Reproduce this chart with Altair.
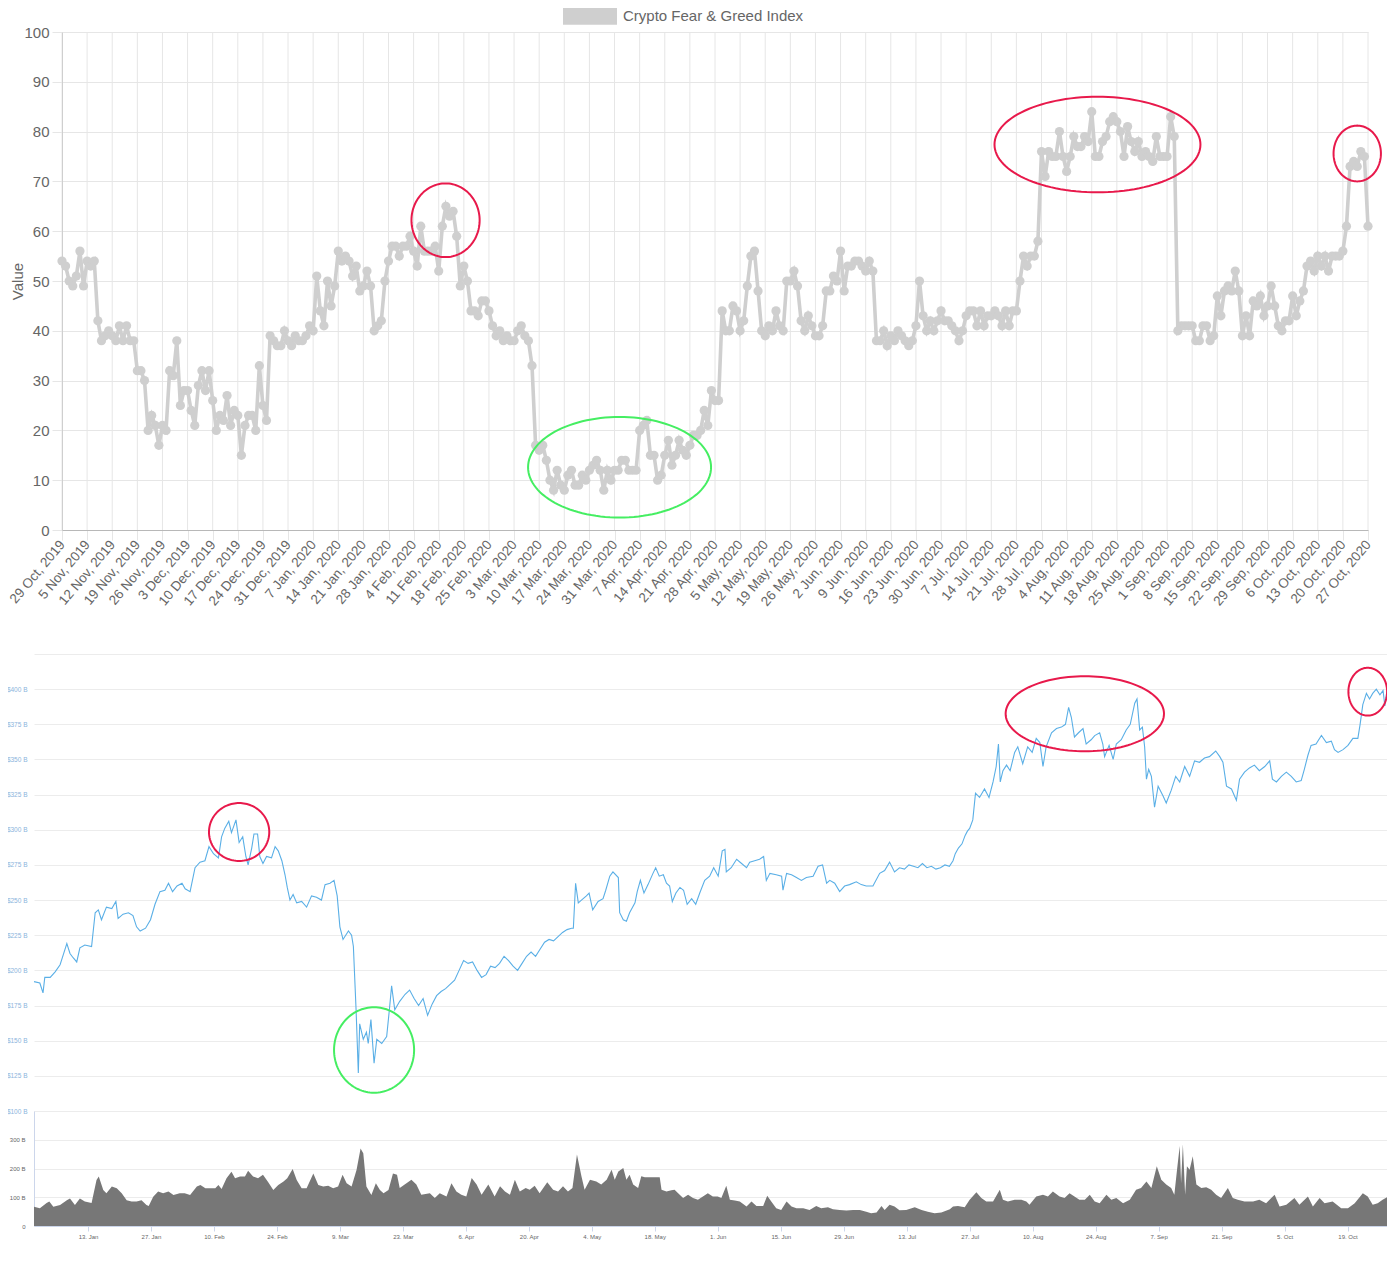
import numpy as np
import pandas as pd
import altair as alt

# ---------------- data: Crypto Fear & Greed Index, daily from 29 Oct 2019
FG_START = "2019-10-29"
FG_LABEL = "Crypto Fear & Greed Index"
fg_values = [
    54, 53, 50, 49, 51, 56, 49, 54, 53, 54, 42,
    38, 39, 40, 39, 38, 41, 38, 41, 38, 38,
    32, 32, 30, 20, 23, 21, 17, 21, 20, 32,
    31, 38, 25, 28, 28, 24, 21, 29, 32, 28,
    32, 26, 20, 23, 22, 27, 21, 24, 23, 15,
    21, 23, 23, 20, 33, 25, 22, 39, 38, 37,
    37, 40, 38, 37, 39, 38, 38, 39, 41, 40,
    51, 44, 41, 50, 45, 49, 56, 54, 55, 54,
    51, 53, 48, 49, 52, 49, 40, 41, 42, 50,
    54, 57, 57, 55, 57, 57, 59, 56, 53, 61,
    56, 56, 56, 57, 52, 61, 65, 63, 64, 59,
    49, 53, 50, 44, 44, 43, 46, 46, 44, 41,
    39, 40, 38, 39, 38, 38, 40, 41, 39, 38,
    33, 17, 16, 17, 14, 10, 8, 12, 9, 8,
    11, 12, 9, 9, 11, 10, 12, 13, 14, 12,
    8, 12, 10, 12, 12, 14, 14, 12, 12, 12,
    20, 21, 22, 15, 15, 10, 11, 15, 18, 13,
    15, 18, 16, 15, 17, 19, 19,
    20, 24, 21, 28, 26, 26,
    44, 40, 40, 45, 44, 40, 42, 49, 55, 56,
    48, 40, 39, 41, 40, 44, 41, 40, 50, 50,
    52, 49, 42, 40, 43, 41, 39, 39, 41, 48,
    48, 51, 50, 56, 48, 53, 53, 54, 54, 53,
    52, 54, 52, 38, 38, 40, 37, 39, 38, 40,
    39, 38, 37, 38, 41, 50, 43, 40, 42, 40,
    42, 44, 42, 42, 41, 40, 38, 40, 43, 44,
    44, 41, 44, 41, 43, 43, 44, 43, 41, 44,
    41, 44, 44, 50, 55, 53, 55, 55, 58, 76,
    71, 76, 75, 75, 80, 75, 72, 75, 79, 77,
    77, 79, 78, 84, 75, 75, 78, 79, 82, 83,
    82, 80, 75, 81, 78, 76, 78, 75, 76, 75,
    74, 79, 75, 75, 75, 83, 79, 40, 41, 41,
    41, 41, 38, 38, 41, 41, 38, 39, 47, 43,
    48, 49, 48, 52, 48, 39, 43, 39, 46, 45,
    47, 43, 45, 49, 45, 41, 40, 42, 42, 47,
    43, 46, 48, 53, 54, 52, 55, 53, 55, 52,
    55, 55, 55, 56, 61, 73, 74, 73, 76, 75, 61,
]
fg_tick_start, fg_tick_end = "2019-10-29", "2020-10-27"

# ---------------- data: total market cap (billion USD), (day since 1 Jan 2020, value)
MC_START = "2020-01-01"
MC_END = "2020-10-28"
mc_points = [
    (0, 192), (1.3, 191), (2, 184), (2.4, 195), (3.6, 195), (4.7, 199), (5.8, 204), (6.5, 211),
    (7.3, 219), (8, 212), (8.7, 209), (9.5, 206), (10.2, 216), (11.3, 218), (12.8, 217), (13.6, 241),
    (14.3, 243), (15, 236), (16.1, 245), (17.3, 244), (18.2, 249), (18.7, 237), (19.8, 240), (21, 241),
    (22, 239), (22.8, 231), (23.6, 228), (24.8, 230), (25.9, 236), (26.9, 247), (28, 256), (29.1, 257),
    (29.9, 262), (30.8, 256), (31.8, 260), (32.9, 262), (33.6, 258), (34.7, 256), (35.8, 273), (36.9, 277),
    (38, 278), (38.9, 288), (39.9, 283), (41, 280), (41.7, 295), (42.4, 301), (43.3, 306), (43.9, 298),
    (44.9, 307), (45.6, 291), (46.4, 295), (47.1, 281), (47.6, 275), (48.4, 287), (48.9, 297), (49.7, 297),
    (50.2, 281), (50.9, 276), (51.7, 281), (52.8, 280), (53.6, 288), (54.3, 285), (55.1, 278), (55.8, 268),
    (56.3, 259), (56.9, 250), (57.6, 254), (58.4, 248), (59.5, 249), (60.6, 245), (61.7, 253), (62.8, 252),
    (63.9, 250), (64.7, 261), (65.8, 262), (66.7, 264), (67.4, 253), (68, 231), (68.7, 222), (69.9, 228),
    (70.6, 225), (71, 217), (71.6, 172), (72.1, 127), (72.4, 162), (73.2, 151), (73.9, 156), (74.3, 148),
    (74.9, 165), (75.6, 134), (76.2, 151), (77.3, 148), (78.4, 153), (79, 172), (79.5, 189), (80.2, 172),
    (81.3, 178), (82.5, 183), (83.5, 186), (84.5, 180), (85.5, 175), (86.5, 180), (87.5, 168), (88.5, 176),
    (89.5, 182), (90.5, 185), (91.5, 187), (92.5, 190), (93.5, 193), (94.5, 200), (95.5, 207), (96.5, 205),
    (97.5, 206), (98.5, 200), (99.5, 195), (100.5, 197), (101.5, 203), (102.5, 202), (103.5, 205), (104.5, 210),
    (105.5, 207), (106.5, 203), (107.5, 200), (108.5, 205), (109.5, 210), (110.5, 213), (111.5, 210), (112.5, 215),
    (113.5, 220), (114.5, 222), (115.5, 221), (116.5, 224), (117.5, 227), (118.5, 229), (119.5, 230), (119.9, 230),
    (120.4, 262), (121, 248), (121.7, 250), (122.8, 253), (123.4, 255), (124.2, 243), (125.4, 249), (126.5, 251),
    (127.1, 257), (128, 267), (128.7, 270), (129.9, 266), (130.2, 241), (131, 236), (131.7, 235), (132.4, 241),
    (133.6, 248), (134.1, 256), (134.8, 264), (135.6, 255), (136.5, 261), (137.6, 269), (138.2, 273), (139, 267),
    (139.9, 268), (140.6, 262), (141.3, 260), (141.9, 249), (142.7, 255), (143.6, 259), (144.4, 257), (145.2, 247),
    (146.2, 251), (147.1, 247), (148, 255), (149.1, 264), (150.2, 267), (151.1, 273), (152.1, 267), (153, 285),
    (153.6, 286), (153.9, 270), (155, 273), (156.2, 279), (157.3, 276), (158.4, 273), (159.1, 277), (160.2, 278),
    (161.3, 279), (162.2, 281), (162.8, 264), (163.6, 269), (165, 268), (166.2, 267), (166.5, 257), (167.3, 269),
    (168.4, 268), (169.5, 266), (170.6, 264), (171.7, 266), (173.2, 267), (174.3, 274), (175.3, 275), (176.2, 262),
    (176.9, 264), (178, 262), (179.1, 256), (180.2, 260), (181.3, 261), (182.8, 263), (183.9, 261), (185, 260),
    (186.5, 260), (188, 269), (189.1, 271), (190.2, 277), (191.3, 270), (192.4, 273), (193.5, 272), (194.5, 275),
    (195.5, 274), (196.5, 273), (197.5, 276), (198.5, 273), (199.5, 274), (200.5, 272), (201.5, 273), (202.5, 275),
    (203.5, 274), (204.3, 278), (204.8, 283), (205.5, 287), (206.3, 290), (207, 296), (207.5, 299), (208, 301),
    (208.7, 307), (209.3, 326), (210.2, 323), (211.3, 329), (212.3, 323), (213.2, 334), (213.9, 345), (214.4, 361),
    (214.8, 334), (215.4, 342), (216.2, 346), (217, 342), (218, 355), (218.7, 359), (219.8, 347), (220.9, 359),
    (221.9, 355), (222.8, 365), (223.6, 362), (224.3, 345), (225, 359), (226.2, 369), (227.3, 372), (228.4, 373),
    (229.3, 375), (230, 387), (230.6, 380), (231.3, 366), (232.2, 369), (233.2, 372), (233.9, 361), (235, 364),
    (235.8, 367), (236.9, 369), (237.6, 361), (238, 352), (239, 360), (239.9, 350), (240.6, 361), (241.7, 364),
    (242.8, 371), (243.7, 375), (244.7, 390), (245.2, 393), (245.8, 371), (246.4, 373), (246.9, 359), (247.3, 336),
    (247.8, 343), (248.4, 338), (249.1, 316), (249.9, 331), (251, 324), (251.7, 319), (252.8, 328), (253.8, 338),
    (254.7, 334), (255.8, 345), (256.9, 338), (258, 349), (259.1, 348), (260.2, 351), (261.3, 352), (262.7, 356),
    (263.6, 352), (264.3, 348), (265.1, 331), (266.2, 329), (267.3, 321), (268, 336), (269.1, 341), (270.2, 344),
    (271.3, 346), (272.4, 342), (273.6, 345), (274.7, 349), (275.3, 336), (276.2, 334), (277.3, 338), (278.4, 341),
    (279.5, 338), (280.6, 334), (281.7, 335), (282.4, 343), (283.2, 353), (283.9, 360), (285, 361), (286.2, 367),
    (287.3, 362), (288.4, 363), (289.1, 357), (289.9, 355), (291, 357), (292.1, 360), (293.2, 365), (294.3, 365),
    (294.8, 375), (295.4, 389), (296.2, 397), (296.9, 393), (297.6, 397), (298.4, 400), (299.2, 396), (299.9, 399),
    (300.3, 388), (300.9, 402),
]

# ---------------- data: 24h volume (billion USD), (day since 1 Jan 2020, value)
vol_points = [
    (0, 67), (1.3, 62), (2.8, 80), (3.4, 85), (4.3, 67), (5.8, 73), (7.3, 90), (8, 96), (9.1, 73), (10.2, 96),
    (11.3, 85), (12.8, 80), (13.9, 160), (14.4, 172), (15.4, 125), (16.1, 114), (17.3, 137), (18.4, 131),
    (19.5, 114), (20.6, 90), (21.7, 85), (22.8, 85), (23.9, 90), (25, 73), (25.5, 70), (26.5, 102), (27.6, 120),
    (28.7, 114), (29.9, 120), (31, 108), (32.4, 114), (33.5, 114), (34.7, 108), (36.2, 137), (37, 143),
    (38.1, 131), (39.2, 131), (40.3, 131), (41, 143), (41.7, 129), (42.8, 166), (43.9, 189), (44.7, 166),
    (45.8, 172), (46.9, 172), (47.6, 192), (48.7, 172), (49.8, 166), (50.9, 178), (52, 154), (53.2, 125),
    (54.3, 143), (55.4, 154), (56.3, 166), (57.5, 198), (58.4, 160), (59.5, 131), (60.6, 131), (62.1, 183),
    (63.2, 143), (64.3, 137), (65.4, 140), (66.5, 131), (67.6, 137), (68.6, 178), (69.5, 149), (70.6, 137),
    (71.7, 195), (72.6, 270), (73.2, 253), (73.9, 137), (75, 108), (76, 149), (76.9, 125), (77.7, 114),
    (78.8, 125), (79.8, 183), (80.7, 178), (81.3, 132), (82.8, 149), (83.9, 161), (85, 144), (86.1, 109),
    (88, 114), (89.1, 97), (90.2, 114), (91.7, 103), (92.8, 149), (93.9, 120), (95, 109), (96.1, 103),
    (97.3, 167), (98.4, 144), (99.5, 109), (101, 144), (102.4, 103), (103.6, 138), (104.7, 120), (105.8, 109),
    (106.9, 161), (108, 120), (109.3, 132), (110.2, 126), (111.3, 140), (112.4, 114), (114.1, 152), (115.4, 126),
    (116.5, 120), (117.6, 138), (118.7, 120), (119.7, 132), (120.7, 249), (121.7, 173), (122.4, 126), (123.6, 161),
    (125, 155), (126.1, 144), (127.3, 161), (128.4, 196), (129.1, 161), (129.9, 190), (131, 202), (131.7, 161),
    (132.4, 178), (133.2, 144), (134.3, 132), (135, 173), (135.8, 170), (136.9, 170), (139.1, 170), (139.5, 126),
    (140.6, 120), (141.7, 124), (142.4, 126), (143.2, 114), (144.3, 97), (145.4, 109), (146.5, 97), (147.6, 91),
    (148.7, 103), (149.8, 114), (150.9, 103), (152, 103), (152.8, 97), (153.9, 140), (154.7, 91), (155.8, 89),
    (156.9, 85), (158.4, 68), (159.5, 85), (160.6, 70), (162.1, 70), (163, 105), (163.9, 85), (165, 62),
    (166.1, 56), (167.3, 85), (168.4, 68), (169.5, 62), (171, 62), (172.4, 56), (173.9, 70), (175, 62),
    (176.5, 65), (177.6, 58), (179.1, 56), (180.6, 54), (182.1, 56), (183.6, 56), (185, 50), (186.1, 44),
    (187.3, 47), (188.4, 70), (189.1, 56), (190.2, 74), (191.3, 68), (192.4, 55), (193.9, 56), (195.8, 65),
    (197.3, 56), (198.7, 50), (200.2, 44), (201.7, 47), (203.6, 58), (204.3, 68), (205.4, 70), (206.9, 65),
    (208, 91), (209.5, 117), (210.6, 97), (211.7, 85), (213.2, 85), (214.7, 126), (215.4, 91), (216.5, 85),
    (218, 91), (219.5, 91), (220.6, 85), (221.3, 74), (222.8, 103), (224.3, 109), (225.4, 103), (226.5, 120),
    (228, 103), (229.1, 97), (230.2, 114), (231.3, 103), (232.4, 91), (233.6, 91), (234.7, 109), (235.8, 85),
    (236.9, 79), (238.4, 109), (239.5, 91), (240.6, 97), (242.1, 79), (243.6, 91), (245, 126), (246.1, 132),
    (247.3, 155), (248.4, 132), (249.6, 208), (250.6, 161), (251.7, 144), (252.8, 132), (253.5, 109), (254.1, 196),
    (254.7, 278), (255, 149), (255.4, 284), (255.9, 109), (256.3, 208), (256.9, 196), (257.6, 243), (258.4, 144),
    (259.5, 132), (260.6, 135), (261.7, 126), (262.8, 109), (263.9, 97), (265.4, 132), (266.5, 97), (267.6, 91),
    (269.1, 85), (271, 85), (272.4, 91), (273.9, 79), (275.8, 109), (276.9, 68), (278.4, 74), (280.2, 97),
    (281.3, 74), (283.2, 103), (284.3, 68), (285.8, 97), (286.9, 79), (288.7, 85), (290.6, 62), (292.1, 62),
    (293.6, 79), (295.4, 114), (296.5, 103), (297.6, 74), (298.7, 79), (299.8, 91), (300.8, 100),
]
mc_tick_start, mc_tick_end = "2020-01-13", "2020-10-19"

# ---------------- annotation ellipses: (centre day, centre value, radius days, radius value, colour)
fg_ellipses = [
    (106.9, 62.2, 9.5, 7.4, "red"),
    (155.4, 12.6, 25.5, 10.1, "green"),
    (288.6, 77.4, 28.7, 9.6, "red"),
    (361.0, 75.6, 6.6, 5.6, "red"),
]
mc_ellipses = [
    (45.6, 298.4, 6.7, 20.6, "red"),
    (75.6, 143.4, 8.9, 30.4, "green"),
    (233.6, 382.5, 17.6, 26.7, "red"),
    (296.5, 398.2, 4.3, 17.0, "red"),
]

# ---------------- styles
RED, GREEN = "#e8194b", "#45ee62"
FG_GRAY = "#cfcfcf"
MC_BLUE = "#5aafe6"
FONT = "Liberation Sans"
GRID = "#e6e6e6"
W, H = 1353, 1194          # one shared plot area; each panel uses its own pixel band
MC_W = 1354


def stamp(start, days):
    t = pd.Timestamp(start) + pd.to_timedelta(np.asarray(days, dtype=float), unit="D")
    return list(t.strftime("%Y-%m-%dT%H:%M:%S"))


def dt(s):
    d = pd.Timestamp(s)
    return alt.DateTime(year=d.year, month=d.month, date=d.day)


def ellipse_frame(ells, start, yname):
    t = np.linspace(0, 2 * np.pi, 121)
    rows = []
    for i, (cd, cv, rd, rv, col) in enumerate(ells):
        for k, tt in enumerate(t):
            rows.append({"id": i, "k": k, "colour": col,
                         "day": cd + rd * np.cos(tt), yname: cv + rv * np.sin(tt)})
    df = pd.DataFrame(rows)
    df["date"] = stamp(start, df["day"])
    return df


fg_df = pd.DataFrame({
    "date": stamp(FG_START, range(len(fg_values))),
    "value": fg_values,
    "series": FG_LABEL,
})
mc_df = pd.DataFrame({"date": stamp(MC_START, [d for d, _ in mc_points]),
                      "cap": [v for _, v in mc_points]})
vol_df = pd.DataFrame({"date": stamp(MC_START, [d for d, _ in vol_points]),
                       "vol": [v for _, v in vol_points]})
fg_ell = ellipse_frame(fg_ellipses, FG_START, "value")
mc_ell = ellipse_frame(mc_ellipses, MC_START, "cap")

week_dates = pd.date_range(fg_tick_start, fg_tick_end, freq="7D")
fg_weeks = [dt(d) for d in week_dates]
week_df = pd.DataFrame({"date": list(week_dates.strftime("%Y-%m-%dT%H:%M:%S")), "lo": 0, "hi": 100})
mc_fortnights = [dt(d) for d in pd.date_range(mc_tick_start, mc_tick_end, freq="14D")]

# ---------------- scales
fg_x = alt.Scale(domain=[dt(fg_tick_start), dt(fg_tick_end)], range=[28, 1334])
fg_y = alt.Scale(domain=[0, 100], range=[498, 0])
mc_x = alt.Scale(domain=[dt(MC_START), dt(MC_END)], range=[0, MC_W])
mc_y = alt.Scale(domain=[100, 425], range=[1079, 622])
vol_y = alt.Scale(domain=[0, 400], range=[H, 1079])

fg_x_axis = alt.Axis(
    orient="bottom", offset=-696, values=fg_weeks, format="%-d %b, %Y",
    labelAngle=-50, labelAlign="right", labelBaseline="middle", labelPadding=2,
    labelFont=FONT, labelFontSize=13.5, labelColor="#666666", labelFlush=False,
    labelOverlap=False, tickSize=10, tickColor=GRID, grid=False,
    domainColor="#b8b8b8", title=None,
)
fg_y_axis = alt.Axis(
    orient="left", offset=-28, values=list(range(0, 101, 10)),
    labelFont=FONT, labelFontSize=15, labelColor="#666666", labelPadding=3,
    tickSize=10, tickColor=GRID, grid=True, gridColor=GRID, domainColor="#b8b8b8",
    title="Value", titleFont=FONT, titleFontSize=15, titleFontWeight="normal",
    titleColor="#666666", titleX=-45, titleY=249, titleAlign="center", titleBaseline="middle",
)

# vertical weekly grid of the Fear & Greed panel
fg_vgrid = alt.Chart(week_df).mark_rule(color=GRID, strokeWidth=1).encode(
    x=alt.X("date:T", scale=fg_x, axis=None),
    y=alt.Y("lo:Q", scale=fg_y, axis=None),
    y2="hi:Q",
)

base_fg = alt.Chart(fg_df)
fg_line = base_fg.mark_line(color=FG_GRAY, strokeWidth=3.6).encode(
    x=alt.X("date:T", scale=fg_x, axis=fg_x_axis),
    y=alt.Y("value:Q", scale=fg_y, axis=fg_y_axis),
)
fg_pts = base_fg.mark_circle(size=85, opacity=1).encode(
    x=alt.X("date:T", scale=fg_x, axis=None),
    y=alt.Y("value:Q", scale=fg_y, axis=None),
    color=alt.Color("series:N", scale=alt.Scale(domain=[FG_LABEL], range=[FG_GRAY]),
                    legend=alt.Legend(
                        title=None, orient="none", legendX=529, legendY=-43, padding=0,
                        symbolType="M-1,-0.32L1,-0.32L1,0.32L-1,0.32Z", symbolSize=2916,
                        symbolStrokeWidth=0, symbolFillColor=FG_GRAY, symbolOpacity=1,
                        labelFont=FONT, labelFontSize=15, labelColor="#666666", labelOffset=6,
                        labelLimit=500)),
)


def ellipse_layer(df, colour, xs, ys, yname):
    return alt.Chart(df[df["colour"] == colour]).mark_line(
        color=RED if colour == "red" else GREEN, strokeWidth=2).encode(
        x=alt.X("date:T", scale=xs, axis=None),
        y=alt.Y(f"{yname}:Q", scale=ys, axis=None),
        detail="id:N",
        order="k:Q",
    )


mc_line = alt.Chart(mc_df).mark_line(color=MC_BLUE, strokeWidth=1.1).encode(
    x=alt.X("date:T", scale=mc_x, axis=None),
    y=alt.Y("cap:Q", scale=mc_y, axis=alt.Axis(
        orient="left", values=list(range(100, 426, 25)),
        labelExpr="datum.value >= 425 ? '' : '$' + datum.value + ' B'",
        labelFont=FONT, labelFontSize=6.5, labelColor="#8cb4dc", labelPadding=7,
        ticks=False, domain=False, grid=True, gridColor="#ececec", title=None)),
)

vol_area = alt.Chart(vol_df).mark_area(color="#777777", opacity=1).encode(
    x=alt.X("date:T", scale=mc_x, axis=alt.Axis(
        orient="bottom", values=mc_fortnights, format="%-d. %b",
        labelFont=FONT, labelFontSize=6, labelColor="#666666", labelPadding=2,
        labelFlush=False, labelOverlap=False, tickSize=5, tickColor="#ccd6eb",
        domainColor="#ccd6eb", grid=False, title=None)),
    y=alt.Y("vol:Q", scale=vol_y, axis=alt.Axis(
        orient="left", values=[0, 100, 200, 300, 400],
        labelExpr="datum.value == 0 ? '0' : (datum.value >= 400 ? '' : datum.value + ' B')",
        labelFont=FONT, labelFontSize=6, labelColor="#666666", labelPadding=9,
        ticks=False, domain=True, domainColor="#ccd6eb", grid=True, gridColor="#ececec",
        title=None)),
)

layers = [
    fg_vgrid, fg_line, fg_pts,
    ellipse_layer(fg_ell, "red", fg_x, fg_y, "value"),
    ellipse_layer(fg_ell, "green", fg_x, fg_y, "value"),
    mc_line,
    ellipse_layer(mc_ell, "red", mc_x, mc_y, "cap"),
    ellipse_layer(mc_ell, "green", mc_x, mc_y, "cap"),
    vol_area,
]

chart = alt.layer(*layers).resolve_scale(
    x="independent", y="independent"
).properties(
    width=W, height=H,
    autosize=alt.AutoSizeParams(type="none"),
    padding={"left": 26, "top": 24, "right": 0, "bottom": 16},
    background="white",
).configure_view(stroke=None)

chart.save("out.html", embed_options={"renderer": "svg", "actions": False})
